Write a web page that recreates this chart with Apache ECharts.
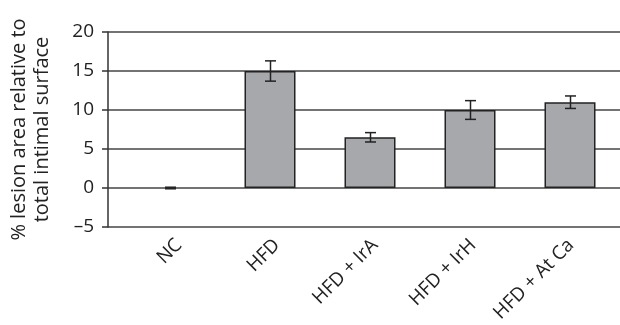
<!DOCTYPE html>
<html>
<head>
<meta charset="utf-8">
<script src="https://cdn.jsdelivr.net/npm/echarts@6/dist/echarts.min.js"></script>
<style>html,body{margin:0;padding:0;background:#fff}#c{width:620px;height:325px}</style>
</head>
<body>
<div id="c"></div>
<script>
const categories = ['NC', 'HFD', 'HFD + IrA', 'HFD + IrH', 'HFD + At Ca'];
const values = [0, 15, 6.5, 10, 11];
const errors = [0.1, 1.3, 0.6, 1.2, 0.8];
const yMin = -5, yMax = 20, yInterval = 5;
const yTitle = '% lesion area relative to\ntotal intimal surface';

const FONT = '"Open Sans", "Noto Sans", sans-serif';
const INK = '#222';
const chart = echarts.init(document.getElementById('c'), null, {renderer: 'canvas'});
chart.setOption({
  animation: false,
  backgroundColor: '#fff',
  grid: [
    {left: 107, right: 0, top: 32, bottom: 98},
    {left: 120, right: 0, top: 32, bottom: 98},
    {left: 130, right: -10, top: 32, bottom: 98}
  ],
  xAxis: [
    {gridIndex: 0, type: 'value', show: false},
    {gridIndex: 1, type: 'category', data: categories, show: false},
    {
      gridIndex: 2, type: 'category', data: categories,
      axisLine: {show: false}, axisTick: {show: false},
      axisLabel: {rotate: 45, margin: 16, color: INK, fontSize: 19, fontFamily: FONT, interval: 0}
    }
  ],
  yAxis: [
    {
      gridIndex: 0, type: 'value', min: yMin, max: yMax, interval: yInterval,
      axisLine: {show: true, lineStyle: {color: '#333', width: 1.5}},
      axisTick: {show: true, length: 6, lineStyle: {color: '#333', width: 1.5}},
      splitLine: {show: true, lineStyle: {color: '#444', width: 1.5}},
      axisLabel: {color: INK, fontSize: 19, fontFamily: FONT, margin: 14,
        formatter: v => v < 0 ? '\u2013' + Math.abs(v) : String(v)},
      name: yTitle, nameLocation: 'middle', nameRotate: 90, nameGap: 54,
      nameTextStyle: {color: INK, fontSize: 20, fontFamily: FONT, lineHeight: 23}
    },
    {gridIndex: 1, type: 'value', min: yMin, max: yMax, interval: yInterval, show: false, splitLine: {show: false}},
    {gridIndex: 2, type: 'value', min: yMin, max: yMax, interval: yInterval, show: false, splitLine: {show: false}}
  ],
  series: [
    {
      type: 'bar', xAxisIndex: 1, yAxisIndex: 1, barWidth: 51,
      data: values.map(v => v === 0 ? {value: v, itemStyle: {borderWidth: 0}} : v),
      itemStyle: {color: '#a7a8ab', borderColor: '#222', borderWidth: 1.5}
    },
    {
      type: 'custom', xAxisIndex: 1, yAxisIndex: 1, z: 5,
      data: values.map((v, i) => [i, v - errors[i], v + errors[i]]),
      renderItem: function (params, api) {
        const lo = api.coord([api.value(0), api.value(1)]);
        const hi = api.coord([api.value(0), api.value(2)]);
        const x = Math.round(lo[0]) + 0.5, w = 5.5;
        const st = {stroke: '#222', lineWidth: 1.5};
        return {type: 'group', children: [
          {type: 'line', shape: {x1: x, y1: hi[1], x2: x, y2: lo[1]}, style: st},
          {type: 'line', shape: {x1: x - w, y1: hi[1], x2: x + w, y2: hi[1]}, style: st},
          {type: 'line', shape: {x1: x - w, y1: lo[1], x2: x + w, y2: lo[1]}, style: st}
        ]};
      }
    }
  ]
});
</script>
</body>
</html>
